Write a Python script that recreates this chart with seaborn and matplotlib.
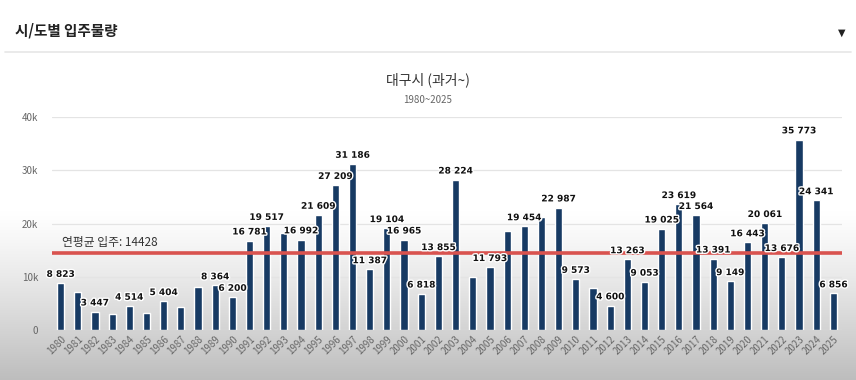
import numpy as np
import pandas as pd
import matplotlib
matplotlib.use("Agg")
import matplotlib.pyplot as plt
import matplotlib.patheffects as pe
import seaborn as sns

years = list(range(1980, 2026))
supply = [8823, 7100, 3447, 2950, 4514, 3250, 5404, 4250, 8000, 8364,
          6200, 16781, 19517, 18250, 16992, 21609, 27209, 31186, 11387, 19104,
          16965, 6818, 13855, 28224, 9950, 11793, 18570, 19454, 21140, 22987,
          9573, 7800, 4600, 13263, 9053, 19025, 23619, 21564, 13391, 9149,
          16443, 20061, 13676, 35773, 24341, 6856]
labeled_years = [1980, 1982, 1984, 1986, 1989, 1990, 1991, 1992, 1994, 1995,
                 1996, 1997, 1998, 1999, 2000, 2001, 2002, 2003, 2005, 2007,
                 2009, 2010, 2012, 2013, 2014, 2015, 2016, 2017, 2018, 2019,
                 2020, 2021, 2022, 2023, 2024, 2025]
avg_supply = 14428
y_ticks = [0, 10000, 20000, 30000, 40000]
y_tick_labels = ["0", "10k", "20k", "30k", "40k"]

sns.set_style("white")
plt.rcParams["font.family"] = ["Noto Sans CJK KR", "DejaVu Sans"]

df = pd.DataFrame({"year": [str(y) for y in years], "supply": supply})

fig = plt.figure(figsize=(8.56, 3.8), dpi=100)

# screenshot-like background: white fading to gray at the bottom
bg = fig.add_axes([0, 0, 1, 1], zorder=-10)
rows = np.arange(380)
shade = np.where(rows < 210, 1.0, 1.0 - 0.26 * ((rows - 210) / 170.0) ** 1.2)
img = np.repeat(shade[:, None], 3, axis=1)[:, None, :]
bg.imshow(img, aspect="auto", extent=[0, 1, 0, 1], origin="upper")
bg.set_axis_off()
bg.plot([0.006, 0.994], [1 - 52 / 380, 1 - 52 / 380], color="#e6e6e6", lw=1.2)

fig.text(15 / 856, 1 - 31 / 380, "시/도별 입주물량", fontsize=10.5, fontweight="bold",
         color="#222222", va="center")
fig.text(842 / 856, 1 - 33 / 380, "▼", fontsize=7, color="#222222",
         va="center", ha="center", family="DejaVu Sans")
fig.text(428 / 856, 1 - 80 / 380, "대구시 (과거~)", fontsize=10, color="#333333",
         ha="center", va="center")
fig.text(428 / 856, 1 - 100 / 380, "1980~2025", fontsize=7, color="#666666",
         ha="center", va="center")

ax = fig.add_axes([52 / 856, 1 - 330 / 380, 790 / 856, 213 / 380])
ax.set_facecolor("none")
sns.barplot(data=df, x="year", y="supply", color="#173a63", width=0.42,
            saturation=1, ax=ax, zorder=3)

ax.set_ylim(0, 40000)
ax.set_xlim(-0.5, len(years) - 0.5)
ax.set_yticks(y_ticks)
ax.set_yticklabels(y_tick_labels, fontsize=7, color="#666666")
ax.yaxis.grid(True, color="#e4e4e4", lw=0.9, zorder=0)
ax.tick_params(axis="y", length=0, pad=10)
ax.tick_params(axis="x", length=0, pad=3)
plt.setp(ax.get_xticklabels(), rotation=45, fontsize=7, color="#666666",
         ha="right", rotation_mode="anchor")
for s in ax.spines.values():
    s.set_visible(False)
ax.set_xlabel("")
ax.set_ylabel("")

ax.axhline(avg_supply, color="#d9534f", lw=2.6, zorder=4)
ax.text(0.1, avg_supply + 700, f"연평균 입주: {avg_supply}", fontsize=8.5,
        color="#333333", va="bottom", ha="left", zorder=5)

stroke = [pe.withStroke(linewidth=2, foreground="white")]
for i, (yr, v) in enumerate(zip(years, supply)):
    if yr in labeled_years:
        ax.annotate(f"{v:,}".replace(",", " "), (i, v), xytext=(0, 3),
                    textcoords="offset points", ha="center", va="bottom",
                    fontsize=6.5, fontweight="bold", color="#111111",
                    path_effects=stroke, zorder=6, family="DejaVu Sans")

fig.savefig("out.png", dpi=100)
